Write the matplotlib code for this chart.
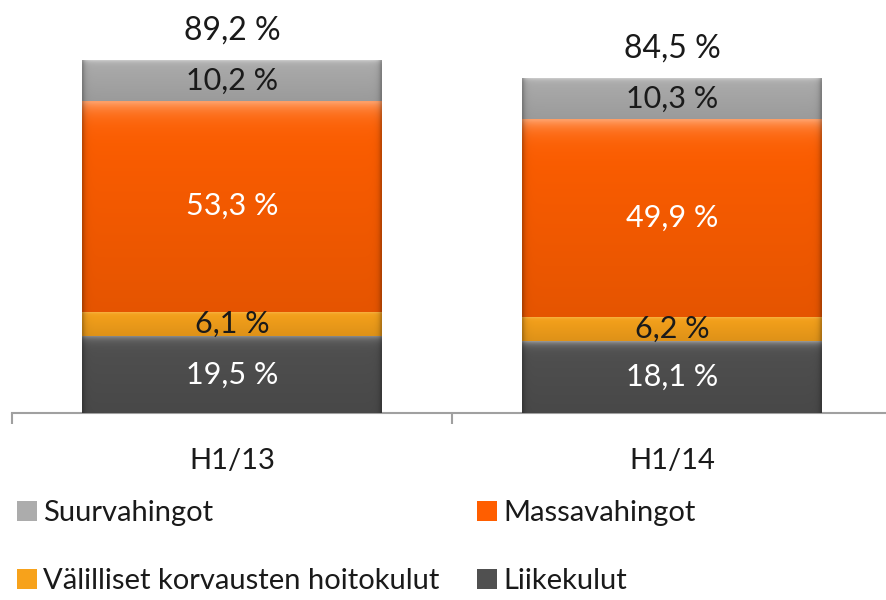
import numpy as np
import matplotlib.pyplot as plt
from matplotlib.patches import Patch
from matplotlib.colors import to_rgb

plt.rcParams['font.family'] = ['Lato', 'DejaVu Sans']

periods = ['H1/13', 'H1/14']
liikekulut = [19.5, 18.1]
valilliset = [6.1, 6.2]
massavahingot = [53.3, 49.9]
suurvahingot = [10.2, 10.3]
totals = [89.2, 84.5]

series = [
    ('Liikekulut', liikekulut, '#505050', 'white'),
    ('Välilliset korvausten hoitokulut', valilliset, '#f7a21b', '#1a1a1a'),
    ('Massavahingot', massavahingot, '#ff5e00', 'white'),
    ('Suurvahingot', suurvahingot, '#acacac', '#1a1a1a'),
]


def bevel(ax, patch, color):
    # fake the office-style bevel: light top edge, darker sides and bottom
    base = np.array(to_rgb(color))
    ny, nx = 80, 160
    img = np.tile(base, (ny, nx, 1))
    t = np.linspace(0, 1, ny)[:, None]
    top = np.clip(base + 0.4 * (1 - base), 0, 1)
    light = np.exp(-t / 0.05)[..., None]
    img = img * (1 - light) + top * light
    img = img * (1 - 0.1 * t[..., None])
    s = np.linspace(0, 1, nx)[None, :]
    side = (np.exp(-s / 0.008) + np.exp(-(1 - s) / 0.008))[..., None]
    img = img * (1 - 0.25 * side)
    x0, y0 = patch.get_x(), patch.get_y()
    w, h = patch.get_width(), patch.get_height()
    ax.imshow(img, extent=(x0, x0 + w, y0, y0 + h), aspect='auto',
              origin='upper', zorder=3, interpolation='bilinear')


fig = plt.figure(figsize=(8.86, 6), dpi=100)
ax = fig.add_axes([12 / 886, 1 - 413 / 600, 880 / 886, 413 / 600])

x = np.arange(len(periods))
bottom = np.zeros(len(periods))
handles = {}
for name, vals, color, tcolor in series:
    bars = ax.bar(x, vals, 0.68, bottom=bottom, color=color, zorder=2)
    for b, v in zip(bars, vals):
        bevel(ax, b, color)
        ax.text(b.get_x() + b.get_width() / 2, b.get_y() + v / 2,
                f'{v:.1f} %'.replace('.', ','), ha='center', va='center',
                fontsize=22, color=tcolor, zorder=5)
    handles[name] = Patch(facecolor=color, edgecolor='none')
    bottom += np.array(vals)

for xi, tot in zip(x, totals):
    ax.text(xi, tot + 7.5, f'{tot:.1f} %'.replace('.', ','), ha='center',
            va='center', fontsize=23, color='#1a1a1a')

ax.set_xlim(-0.5, 1.5)
ax.set_ylim(0, 413 / 3.957)
for s in ['left', 'top', 'right']:
    ax.spines[s].set_visible(False)
ax.spines['bottom'].set_color('#a0a0a0')
ax.spines['bottom'].set_linewidth(1.5)
ax.set_yticks([])
ax.set_xticks(x)
ax.set_xticklabels(periods, fontsize=21, color='#1a1a1a')
ax.tick_params(axis='x', which='major', length=0, pad=25)
ax.set_xticks([-0.5, 0.5, 1.5], minor=True)
ax.tick_params(axis='x', which='minor', length=8, width=1.5, color='#a0a0a0')

# two legend columns, placed separately
columns = [(['Suurvahingot', 'Välilliset korvausten hoitokulut'], 17),
           (['Massavahingot', 'Liikekulut'], 477)]
for names, xpx in columns:
    leg = fig.legend([handles[n] for n in names], names, loc='upper left',
                     bbox_to_anchor=(xpx / 886, 1 - 500 / 600), frameon=False,
                     fontsize=21, handlelength=0.7, handleheight=0.7,
                     handletextpad=0.2, borderpad=0, borderaxespad=0,
                     labelspacing=1.45, labelcolor='#1a1a1a')

fig.savefig('out.png', dpi=100)
